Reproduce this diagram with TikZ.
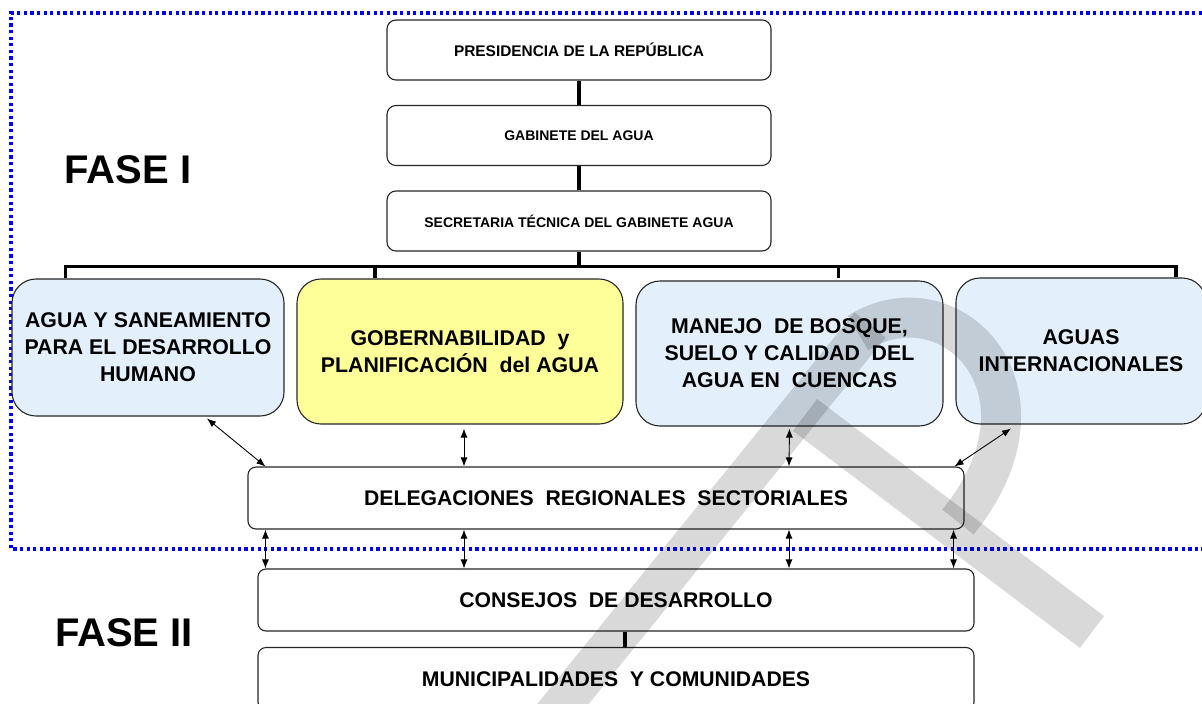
\documentclass[tikz,border=0pt]{standalone}
\usepackage{fontspec}
\setmainfont{Liberation Sans}
\usepackage{tikz}
\usetikzlibrary{arrows.meta,calc}

\definecolor{celeste}{RGB}{227,240,252}
\definecolor{amarillo}{RGB}{255,255,153}

\tikzset{
  topbox/.style={draw=black!85, line width=1.1pt, rounded corners=9pt, fill=white,
    minimum width=384pt, minimum height=60pt, inner sep=0pt,
    font=\bfseries\fontsize{14}{17}\selectfont},
  areabox/.style={draw=black!85, line width=1.1pt, rounded corners=24pt, fill=celeste,
    inner sep=0pt, align=center, font=\bfseries\fontsize{21.3}{27}\selectfont},
  barbox/.style={draw=black!85, line width=1.1pt, rounded corners=8pt, fill=white,
    minimum width=716pt, minimum height=62pt, inner sep=0pt,
    font=\bfseries\fontsize{21.2}{25}\selectfont},
  link/.style={line width=3.6pt},
  flecha/.style={{Latex[length=9pt,width=7pt]}-{Latex[length=9pt,width=7pt]}, line width=0.9pt},
  fase/.style={font=\bfseries\fontsize{40}{45}\selectfont},
  borde/.style={blue, line width=3.3pt, dash pattern=on 3.3pt off 3.3pt},
  marca/.style={black, opacity=0.15, line width=40pt}
}

\begin{document}
\begin{tikzpicture}[x=1pt,y=-1pt]
  \useasboundingbox (0,0) rectangle (1202,704);
  \clip (0,0) rectangle (1202,704);

  \draw[borde] (1215,13) -- (11,13) -- (11,549) -- (1215,549);

  \draw (128,170) node[fase] (fase1) {FASE I};
  \draw (124,633) node[fase] (fase2) {FASE II};

  \draw (579,50) node[topbox, font=\bfseries\fontsize{15.4}{18}\selectfont] (presidencia) {PRESIDENCIA DE LA REPÚBLICA};
  \draw (579,135.5) node[topbox] (gabinete) {GABINETE DEL AGUA};
  \draw (579,221) node[topbox] (secretaria) {SECRETARIA TÉCNICA DEL GABINETE AGUA};

  \draw (148,347.5) node[areabox, minimum width=272pt, minimum height=137pt] (saneamiento) {AGUA Y SANEAMIENTO\\PARA EL DESARROLLO\\HUMANO};
  \draw (460,351.5) node[areabox, fill=amarillo, minimum width=326pt, minimum height=145pt] (gobernabilidad) {GOBERNABILIDAD~ y\\PLANIFICACIÓN~ del AGUA};
  \draw (789.5,353.5) node[areabox, minimum width=307pt, minimum height=145pt] (bosque) {MANEJO~ DE BOSQUE,\\SUELO Y CALIDAD~ DEL\\AGUA EN~ CUENCAS};
  \draw (1081,351) node[areabox, minimum width=250pt, minimum height=146pt] (internacionales) {AGUAS\\INTERNACIONALES};

  \draw (606,498) node[barbox] (delegaciones) {DELEGACIONES~ REGIONALES~ SECTORIALES};
  \draw (616,600) node[barbox] (consejos) {CONSEJOS~ DE DESARROLLO};
  \draw (616,679) node[barbox, minimum height=63pt] (municipalidades) {MUNICIPALIDADES~ Y COMUNIDADES};

    \draw[link] (presidencia) -- (gabinete);
    \draw[link] (gabinete) -- (secretaria);
    \draw[link] (secretaria.south) -- ++(0,15) coordinate (bus);
    \draw[link] (bus -| saneamiento.north west) ++(54,11) |- (bus) -| ([xshift=95pt]internacionales.north);
    \draw[link] (bus -| saneamiento.north) ++(227,0) -- ++(0,11);
    \draw[link] (bus -| bosque.north) ++(49,0) -- ++(0,11);
    \draw[link] ([xshift=9pt]consejos.south) -- ([xshift=9pt]municipalidades.north);

    \draw[flecha] ([xshift=59pt,yshift=-2pt]saneamiento.south) -- ([xshift=18pt]delegaciones.north west);
    \draw[flecha] ([xshift=4pt,yshift=-4pt]gobernabilidad.south) -- ([xshift=-142pt]delegaciones.north);
    \draw[flecha] ([yshift=-2pt]bosque.south) -- ([xshift=183pt]delegaciones.north);
    \draw[flecha] ([xshift=-70pt,yshift=-4pt]internacionales.south) -- ([xshift=-10pt]delegaciones.north east);

    \draw[flecha] ([xshift=18pt]delegaciones.south west) -- ([xshift=8pt]consejos.north west);
    \draw[flecha] ([xshift=-142pt]delegaciones.south) -- ([xshift=-152pt]consejos.north);
    \draw[flecha] ([xshift=183pt]delegaciones.south) -- ([xshift=173pt]consejos.north);
    \draw[flecha] ([xshift=-11pt]delegaciones.south east) -- ([xshift=-21pt]consejos.north east);

  \draw[marca] (550,720) -- (870,325);
  \draw[marca] (858,333) .. controls (950,275) and (1065,390) .. (958,522);
  \draw[marca] (805,415) -- (1092,632);
\end{tikzpicture}
\end{document}
